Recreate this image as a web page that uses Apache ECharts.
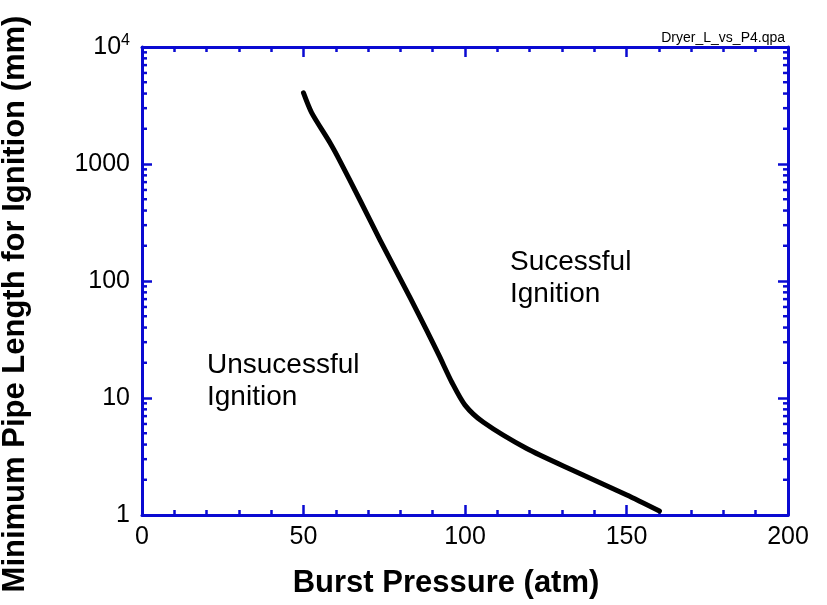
<!DOCTYPE html>
<html>
<head>
<meta charset="utf-8">
<script src="https://cdn.jsdelivr.net/npm/echarts@6/dist/echarts.min.js"></script>
<style>
html,body{margin:0;padding:0;background:#fff;}
#chart{width:827px;height:605px;}
</style>
</head>
<body>
<div id="chart"></div>
<script>
// Data
const pressure = [50, 52.5, 58.2, 61.3, 67.5, 73.7, 83, 88.1, 92, 96, 100, 105.7, 119.1, 133.5, 150.1, 160.2];
const pipeLength = [4050, 2750, 1520, 1060, 490, 224, 72, 38, 23, 13.5, 8.7, 6.2, 3.7, 2.4, 1.48, 1.08];
const yMinorTicks = [2,3,4,5,6,7,8,9,20,30,40,50,60,70,80,90,200,300,400,500,600,700,800,900,2000,3000,4000,5000,6000,7000,8000,9000];
const xTitle = 'Burst Pressure (atm)';
const yTitle = 'Minimum Pipe Length for Ignition (mm)';
const fileNote = 'Dryer_L_vs_P4.qpa';
const regionLabels = [['Sucessful', 'Ignition'], ['Unsucessful', 'Ignition']];

const FONT = 'Arial, "Liberation Sans", Helvetica, sans-serif';
const BLUE = '#0a0ad2';

const chart = echarts.init(document.getElementById('chart'), null, {renderer: 'canvas'});

const axisLine = {show: true, onZero: false, lineStyle: {color: BLUE, width: 3}};
const majorTick = {show: true, inside: true, length: 10, lineStyle: {color: BLUE, width: 2.5}};
const minorTick = {show: true, splitNumber: 5, length: 5, lineStyle: {color: BLUE, width: 2.5}};

const option = {
  backgroundColor: '#ffffff',
  animation: false,
  grid: {left: 142, right: 39, top: 47, bottom: 90, containLabel: false},
  xAxis: [
    {type: 'value', min: 0, max: 200, interval: 50, position: 'bottom',
     axisLine: axisLine, axisTick: majorTick, minorTick: minorTick,
     splitLine: {show: false},
     axisLabel: {color: '#000', fontSize: 25, fontFamily: FONT, margin: 10}},
    {type: 'value', min: 0, max: 200, interval: 50, position: 'top',
     axisLine: axisLine, axisTick: majorTick, minorTick: minorTick,
     splitLine: {show: false}, axisLabel: {show: false}}
  ],
  yAxis: [
    {type: 'log', logBase: 10, min: 1, max: 10000, interval: 1, position: 'left',
     axisLine: axisLine, axisTick: majorTick, splitLine: {show: false},
     axisLabel: {color: '#000', fontSize: 25, fontFamily: FONT, margin: 12,
       formatter: function (v) {
         if (Math.abs(v - 10000) < 1e-6) return '{b|10}{s|4}';
         return String(Math.round(v));
       },
       rich: {
         b: {fontSize: 25, fontFamily: FONT, color: '#000'},
         s: {fontSize: 16, fontFamily: FONT, color: '#000', verticalAlign: 'bottom', padding: [0, 0, 12, 0]}
       }}},
    {type: 'log', logBase: 10, min: 1, max: 10000, interval: 1, position: 'right',
     axisLine: axisLine, axisTick: majorTick, splitLine: {show: false},
     axisLabel: {show: false}}
  ],
  series: [
    {
      type: 'line',
      xAxisIndex: 0, yAxisIndex: 0,
      data: pressure.map((p, i) => [p, pipeLength[i]]),
      smooth: 0.25,
      symbol: 'none',
      lineStyle: {color: '#000', width: 5, cap: 'round', join: 'round'},
      z: 3
    },
    {
      type: 'custom',
      xAxisIndex: 0, yAxisIndex: 0,
      silent: true,
      data: yMinorTicks.map(v => [0, v]),
      renderItem: function (params, api) {
        const v = api.value(1);
        const a = api.coord([0, v]);
        const b = api.coord([200, v]);
        const st = {stroke: BLUE, lineWidth: 2.5};
        return {type: 'group', children: [
          {type: 'line', shape: {x1: a[0], y1: a[1], x2: a[0] + 5, y2: a[1]}, style: st},
          {type: 'line', shape: {x1: b[0] - 5, y1: b[1], x2: b[0], y2: b[1]}, style: st}
        ]};
      },
      z: 4
    }
  ],
  graphic: [
    {type: 'text', x: 446, y: 583,
     style: {text: xTitle, font: 'bold 31px ' + FONT, fill: '#000', align: 'center', verticalAlign: 'middle'}},
    {type: 'text', x: 15, y: 304, rotation: Math.PI / 2,
     style: {text: yTitle, font: 'bold 31px ' + FONT, fill: '#000', align: 'center', verticalAlign: 'middle'}},
    {type: 'text', x: 785, y: 38,
     style: {text: fileNote, font: '14px ' + FONT, fill: '#000', align: 'right', verticalAlign: 'middle'}},
    {type: 'text', x: 510, y: 246,
     style: {text: regionLabels[0].join('\n'), font: '28px ' + FONT, fill: '#000', align: 'left', verticalAlign: 'top', lineHeight: 32}},
    {type: 'text', x: 207, y: 349,
     style: {text: regionLabels[1].join('\n'), font: '28px ' + FONT, fill: '#000', align: 'left', verticalAlign: 'top', lineHeight: 32}}
  ]
};
chart.setOption(option);
</script>
</body>
</html>
